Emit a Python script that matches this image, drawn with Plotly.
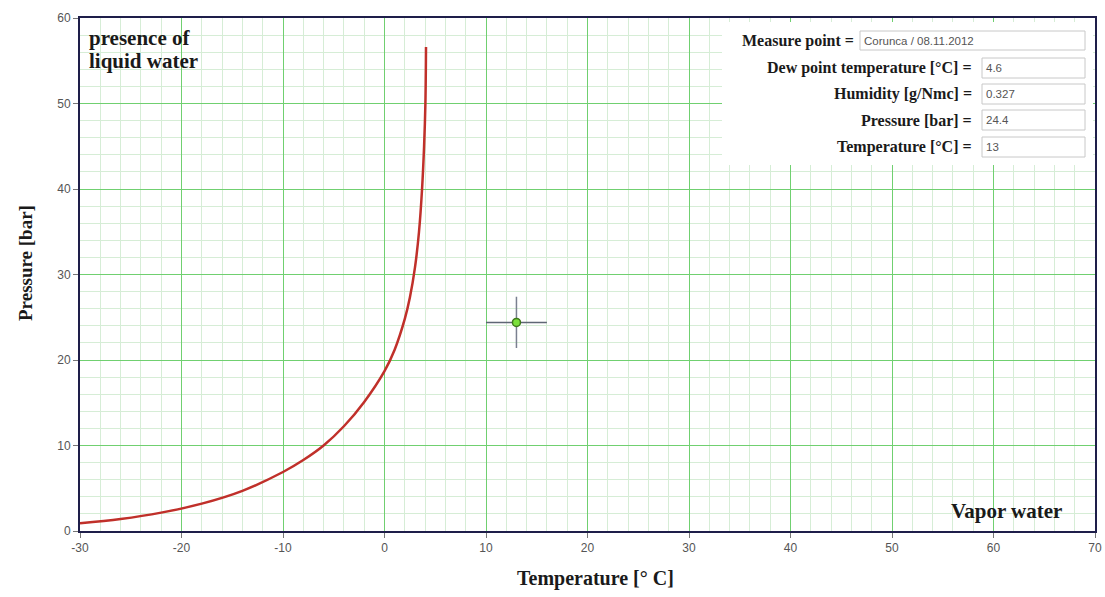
import plotly.graph_objects as go

# ---- data ----
curve_T = [-30, -26, -22, -18, -14, -10, -8, -6, -4, -2, 0, 1, 2, 2.5, 3, 3.4, 3.7, 3.9, 4.03, 4.09]
curve_P = [0.9, 1.4, 2.15, 3.2, 4.7, 6.9, 8.3, 10.0, 12.25, 15.1, 18.7, 21.2, 24.8, 27.3, 30.8, 35.0, 40.0, 45.0, 50.0, 56.6]

meas_T = 13
meas_P = 24.4
cross_half = 3

info_labels = ["Measure point =", "Dew point temperature [°C] =", "Humidity [g/Nmc] =",
               "Pressure [bar] =", "Temperature [°C] ="]
info_values = ["Corunca / 08.11.2012", "4.6", "0.327", "24.4", "13"]

x_ticks = [-30, -20, -10, 0, 10, 20, 30, 40, 50, 60, 70]
y_ticks = [0, 10, 20, 30, 40, 50, 60]

# ---- layout geometry (pixels) ----
W, H = 1105, 597
L, R, T, B = 80, 1095, 18, 531


def px(x):
    return (x - L) / (R - L)


def py(y):
    return (B - y) / (B - T)


fig = go.Figure()

fig.add_trace(go.Scatter(
    x=curve_T, y=curve_P, mode="lines",
    line=dict(color="#c0302a", width=2.5, shape="spline", smoothing=1.0),
    hoverinfo="skip", showlegend=False))

fig.add_trace(go.Scatter(
    x=[meas_T - cross_half, meas_T + cross_half], y=[meas_P, meas_P], mode="lines",
    line=dict(color="#5f6675", width=1.5), showlegend=False, hoverinfo="skip"))
fig.add_trace(go.Scatter(
    x=[meas_T, meas_T], y=[meas_P - cross_half, meas_P + cross_half], mode="lines",
    line=dict(color="#7a8090", width=1.5), showlegend=False, hoverinfo="skip"))
fig.add_trace(go.Scatter(
    x=[meas_T], y=[meas_P], mode="markers",
    marker=dict(color="#7be03a", size=8, line=dict(color="#3f7a1c", width=1.5)),
    showlegend=False))

shapes = []
# info box background
shapes.append(dict(type="rect", xref="paper", yref="paper", x0=px(722), x1=px(1093), y0=py(165), y1=py(22),
                   fillcolor="white", line=dict(width=0), layer="above"))
box_rows = [(31, 50, 860, 856), (58, 78, 982, 974), (84, 104, 982, 974), (110, 130, 982, 974), (137, 157, 982, 974)]
annotations = []
for (y0, y1, x0, lx), lab, val in zip(box_rows, info_labels, info_values):
    shapes.append(dict(type="rect", xref="paper", yref="paper", x0=px(x0), x1=px(1085), y0=py(y1), y1=py(y0),
                       fillcolor="white", line=dict(color="#c8c8c8", width=1), layer="above"))
    annotations.append(dict(xref="paper", yref="paper", x=px(lx), y=py((y0 + y1) / 2),
                            text="<b>" + lab + "</b>", showarrow=False, xanchor="right", yanchor="middle",
                            font=dict(family="Liberation Serif", size=16, color="#1a1a1a")))
    annotations.append(dict(xref="paper", yref="paper", x=px(x0 + 2), y=py((y0 + y1) / 2),
                            text=val, showarrow=False, xanchor="left", yanchor="middle",
                            font=dict(family="Liberation Sans", size=11.5, color="#555555")))

annotations.append(dict(xref="paper", yref="paper", x=px(87), y=py(38),
                        text="<b>presence of</b>", showarrow=False, xanchor="left", yanchor="middle",
                        font=dict(family="Liberation Serif", size=21, color="#1a1a1a")))
annotations.append(dict(xref="paper", yref="paper", x=px(87), y=py(61),
                        text="<b>liquid water</b>", showarrow=False, xanchor="left", yanchor="middle",
                        font=dict(family="Liberation Serif", size=21, color="#1a1a1a")))
annotations.append(dict(xref="paper", yref="paper", x=px(1064), y=py(511),
                        text="<b>Vapor water</b>", showarrow=False, xanchor="right", yanchor="middle",
                        font=dict(family="Liberation Serif", size=21, color="#1a1a1a")))
# axis titles
annotations.append(dict(xref="paper", yref="paper", x=px(595), y=py(578),
                        text="<b>Temperature [° C]</b>", showarrow=False, xanchor="center", yanchor="middle",
                        font=dict(family="Liberation Serif", size=20, color="#1a1a1a")))
annotations.append(dict(xref="paper", yref="paper", x=px(25), y=py(263), textangle=-90,
                        text="<b>Pressure [bar]</b>", showarrow=False, xanchor="center", yanchor="middle",
                        font=dict(family="Liberation Serif", size=19, color="#1a1a1a")))

axis_common = dict(
    showgrid=True, gridcolor="#70d070", gridwidth=1.4,
    showline=True, linecolor="#1e1e4a", linewidth=2, mirror=True,
    ticks="outside", ticklen=5, tickcolor="#777777",
    tickfont=dict(family="Liberation Sans", size=12, color="#555555"),
    zeroline=False, automargin=False,
    minor=dict(dtick=2, showgrid=True, gridcolor="#d6edd6", gridwidth=1),
)

fig.update_layout(
    width=W, height=H,
    margin=dict(l=L, r=W - R, t=T, b=H - B),
    paper_bgcolor="white", plot_bgcolor="white",
    shapes=shapes, annotations=annotations,
    xaxis=dict(range=[-30, 70], tickvals=x_ticks, ticktext=[str(v) for v in x_ticks], **axis_common),
    yaxis=dict(range=[0, 60], tickvals=y_ticks, ticktext=[str(v) for v in y_ticks], **axis_common),
)

fig.write_html("out.html")
